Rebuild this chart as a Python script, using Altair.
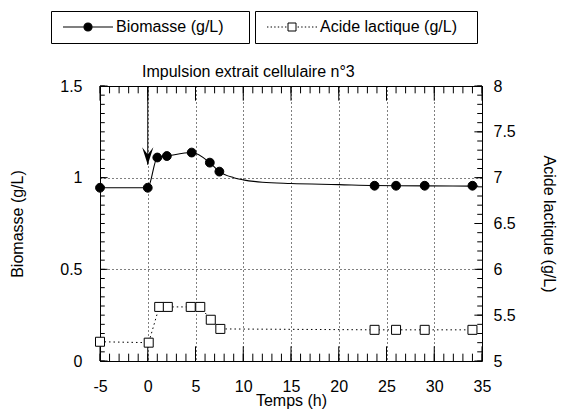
import altair as alt
import pandas as pd

# ---- data ----
bio_t = [-5, 0, 1, 2, 4.6, 6.5, 7.5, 23.75, 26, 29, 34]
bio_v = [0.945, 0.945, 1.11, 1.118, 1.137, 1.082, 1.033, 0.956, 0.956, 0.956, 0.956]

fit_t = [-5, 0, 1, 2, 4.6, 6.5, 7.5, 9, 10, 12, 15, 20, 23.75, 26, 29, 34, 34.6]
fit_v = [0.945, 0.945, 1.11, 1.118, 1.137, 1.082, 1.033, 1.0, 0.988, 0.975, 0.968,
         0.962, 0.957, 0.956, 0.955, 0.954, 0.954]

acid_t = [-5, 0.1, 1.2, 2.1, 4.5, 5.5, 6.6, 7.6, 23.75, 26, 29, 34]
acid_v = [5.21, 5.2, 5.59, 5.59, 5.59, 5.59, 5.45, 5.35, 5.34, 5.34, 5.34, 5.34]

arrow_t = [0]
arrow_top = [1.5]
arrow_tip = [1.07]

x_ticks = [-5, 0, 5, 10, 15, 20, 25, 30, 35]
x_minor = list(range(-5, 36))
left_ticks = [0, 0.5, 1, 1.5]
left_minor = [round(i * 0.05, 2) for i in range(31)]
right_ticks = [5, 5.5, 6, 6.5, 7, 7.5, 8]
right_minor = [round(5 + i * 0.1, 1) for i in range(31)]

bio_label = "Biomasse (g/L)"
acid_label = "Acide lactique (g/L)"
title_text = "Impulsion extrait cellulaire n°3"

FONT = "Liberation Sans"
W, H = 382, 275

bio_df = pd.DataFrame({"t": bio_t, "v": bio_v, "s": bio_label})
fit_df = pd.DataFrame({"t": fit_t, "v": fit_v})
acid_df = pd.DataFrame({"t": acid_t, "v": acid_v, "s": acid_label})
arrow_df = pd.DataFrame({"t": arrow_t, "top": arrow_top, "tip": arrow_tip})

xs = alt.Scale(domain=[-5, 35], nice=False, zero=False)
ys_bio = alt.Scale(domain=[0, 1.5], nice=False, zero=False)
ys_acid = alt.Scale(domain=[5, 8], nice=False, zero=False)

# legend symbols
bio_path = "M-6.25,0H-1M1,0H6.25M-1,0A1,1,0,1,0,1,0A1,1,0,1,0,-1,0Z"
segs = []
p = -6.25
while p + 0.35 <= -1.1:
    segs.append("M%.2f,0H%.2f" % (p, p + 0.35))
    segs.append("M%.2f,0H%.2f" % (-p - 0.35, -p))
    p += 0.9
acid_path = "".join(segs) + "M-1,-1H1V1H-1Z"
arrow_path = "M-0.7,-2.2L0,0L0.7,-2.2L0,-1.3Z"

grid_kw = dict(grid=True, gridDash=[1, 3], gridColor="black", gridOpacity=1, gridWidth=1)
num_label = "'' + datum.value"


def tick_axis(orient, values, size, offset):
    return alt.Axis(orient=orient, values=values, tickSize=size, offset=offset,
                    labels=False, domain=False, grid=False, title="", ticks=True,
                    tickColor="black", tickWidth=1, tickOpacity=1)


fit_line = alt.Chart(fit_df).mark_line(color="black", strokeWidth=1.1, interpolate="monotone").encode(
    x=alt.X("t:Q", scale=xs, axis=alt.Axis(orient="bottom", values=x_ticks, title="Temps (h)",
                                            ticks=False, domain=False, labelPadding=17, titlePadding=-2,
                                            labelFlush=False, labelExpr=num_label, **grid_kw)),
    y=alt.Y("v:Q", scale=ys_bio, axis=alt.Axis(orient="left", values=left_ticks, title=bio_label,
                                                ticks=False, domain=False, labelPadding=18,
                                                labelFlush=False, labelExpr=num_label,
                                                titlePadding=34, **grid_kw)),
)

acid_line = alt.Chart(acid_df).mark_line(color="black", strokeWidth=1, strokeDash=[1.5, 3]).encode(
    x=alt.X("t:Q", scale=xs, axis=None),
    y=alt.Y("v:Q", scale=ys_acid, axis=alt.Axis(orient="right", values=right_ticks, title=acid_label,
                                                 ticks=False, domain=False, labelPadding=11,
                                                 labelFlush=False, labelExpr=num_label,
                                                 titlePadding=25, titleAngle=90, grid=False)),
)

# inward tick marks along the frame: short rules drawn through the scales
xminor_df = pd.DataFrame({"t": x_minor, "y0": 0.0, "y1": 0.04, "y2": 1.5, "y3": 1.46})
xmajor_df = pd.DataFrame({"t": x_ticks, "y0": 0.0, "y1": 0.08, "y2": 1.5, "y3": 1.42})
lminor_df = pd.DataFrame({"v": left_minor, "x0": -5.0, "x1": -4.5})
lmajor_df = pd.DataFrame({"v": left_ticks, "x0": -5.0, "x1": -4.2})
rminor_df = pd.DataFrame({"v": right_minor, "x0": 35.0, "x1": 34.5})
rmajor_df = pd.DataFrame({"v": right_ticks, "x0": 35.0, "x1": 34.2})

ticks = []
for df in (xminor_df, xmajor_df):
    for a, b in (("y0", "y1"), ("y2", "y3")):
        ticks.append(alt.Chart(df).mark_rule(color="black", strokeWidth=1).encode(
            x=alt.X("t:Q", scale=xs, axis=None),
            y=alt.Y(a + ":Q", scale=ys_bio, axis=None), y2=b + ":Q"))
for df, sc in ((lminor_df, ys_bio), (lmajor_df, ys_bio), (rminor_df, ys_acid), (rmajor_df, ys_acid)):
    ticks.append(alt.Chart(df).mark_rule(color="black", strokeWidth=1).encode(
        y=alt.Y("v:Q", scale=sc, axis=None),
        x=alt.X("x0:Q", scale=xs, axis=None), x2="x1:Q"))

arrow_rule = alt.Chart(arrow_df).mark_rule(color="black", strokeWidth=1).encode(
    x=alt.X("t:Q", scale=xs, axis=None),
    y=alt.Y("top:Q", scale=ys_bio, axis=None),
    y2="tip:Q",
)

arrow_head = alt.Chart(arrow_df).mark_point(shape=arrow_path, size=256, filled=True,
                                            fill="black", opacity=1).encode(
    x=alt.X("t:Q", scale=xs, axis=None),
    y=alt.Y("tip:Q", scale=ys_bio, axis=None),
)

bio_pts = alt.Chart(bio_df).mark_point(shape="circle", size=78, filled=True, fill="black",
                                       strokeWidth=1, opacity=1).encode(
    x=alt.X("t:Q", scale=xs, axis=None),
    y=alt.Y("v:Q", scale=ys_bio, axis=None),
    stroke=alt.Stroke("s:N", scale=alt.Scale(range=["black"]),
                      legend=alt.Legend(orient="none", legendX=-49, legendY=-75, title=None,
                                        symbolType=bio_path, symbolSize=64, symbolStrokeWidth=1.2,
                                        symbolStrokeColor="black", symbolFillColor="black",
                                        symbolOffset=21, labelOffset=20,
                                        labelExpr="datum.label + ' \u2800'",
                                        labelFontSize=16, labelFont=FONT, labelColor="black",
                                        padding=8, strokeColor="black", fillColor="white")),
)

acid_pts = alt.Chart(acid_df).mark_point(shape="square", size=81, filled=True, fill="white",
                                         strokeWidth=1, opacity=1).encode(
    x=alt.X("t:Q", scale=xs, axis=None),
    y=alt.Y("v:Q", scale=ys_acid, axis=None),
    stroke=alt.Stroke("s:N", scale=alt.Scale(range=["black"]),
                      legend=alt.Legend(orient="none", legendX=155, legendY=-75, title=None,
                                        symbolType=acid_path, symbolSize=64, symbolStrokeWidth=1,
                                        symbolStrokeColor="black", symbolFillColor="white",
                                        symbolOffset=21, labelOffset=20,
                                        labelExpr="datum.label + '\u2800'",
                                        labelFontSize=16, labelFont=FONT, labelColor="black",
                                        padding=8, strokeColor="black", fillColor="white")),
)

chart = alt.layer(
    fit_line, acid_line, *ticks, arrow_rule, arrow_head, bio_pts, acid_pts
).resolve_scale(
    y="independent", stroke="independent"
).resolve_axis(
    x="independent", y="independent"
).properties(
    width=W, height=H,
    title=alt.TitleParams(title_text, anchor="start", frame="group", dx=42, dy=74, offset=5,
                          fontSize=16, fontWeight="normal", font=FONT, color="black"),
    padding={"left": 92, "top": 78, "right": 75, "bottom": 51},
    autosize=alt.AutoSizeParams(type="none"),
).configure(
    font=FONT,
).configure_view(
    stroke="black", strokeWidth=1,
).configure_axis(
    labelFont=FONT, titleFont=FONT, labelFontSize=16, titleFontSize=16,
    labelColor="black", titleColor="black", titleFontWeight="normal",
)

chart.save("out.html", embed_options={"renderer": "svg", "actions": False})
